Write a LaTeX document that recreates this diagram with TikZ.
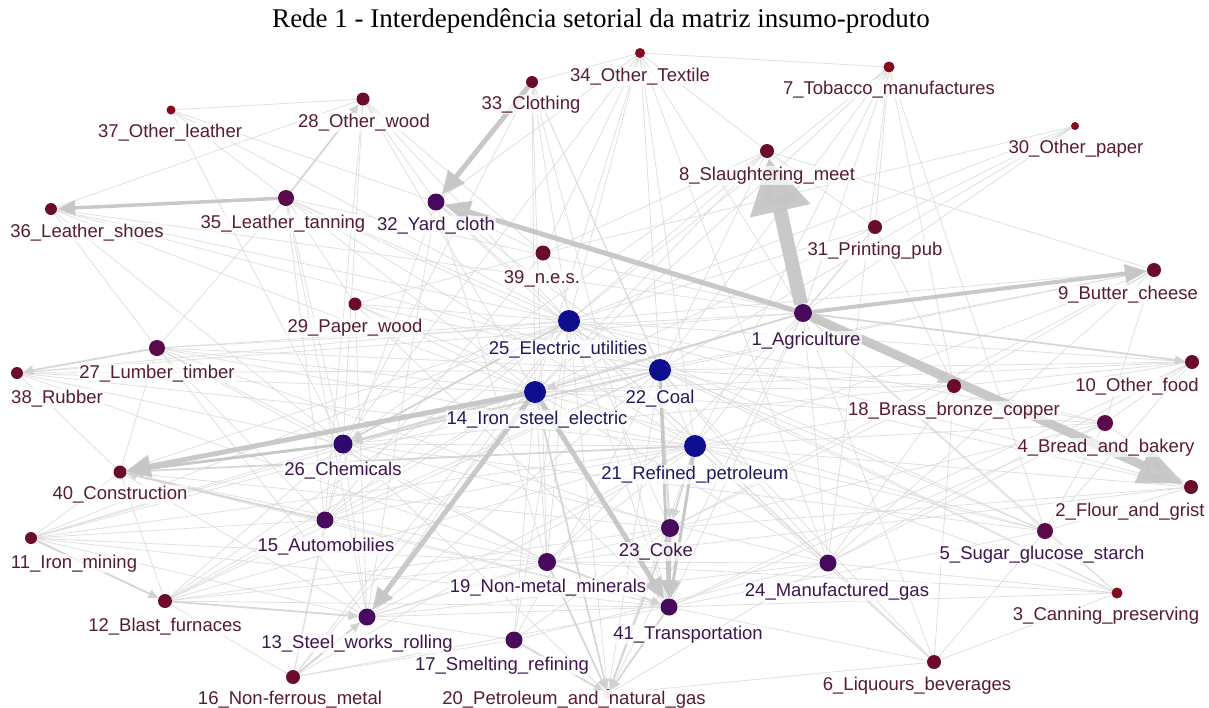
\documentclass[tikz,border=0pt]{standalone}
\usepackage{fontspec}
\setmainfont{Liberation Sans}
\newfontfamily\titlefont{Liberation Serif}
\usetikzlibrary{arrows.meta}
\pgfdeclarelayer{edges}
\pgfsetlayers{edges,main}

% node fill colours, from low to high centrality
\definecolor{cR}{RGB}{132,10,30}
\definecolor{cA}{RGB}{108,12,44}
\definecolor{cB}{RGB}{90,10,72}
\definecolor{cC}{RGB}{72,10,92}
\definecolor{cD}{RGB}{46,10,112}
\definecolor{cE}{RGB}{14,14,142}
% label text colours
\definecolor{tA}{RGB}{88,28,48}
\definecolor{tC}{RGB}{62,22,78}
\definecolor{tE}{RGB}{28,28,92}
\definecolor{edgelight}{RGB}{218,218,218}
\definecolor{edgemid}{RGB}{208,208,208}
\definecolor{edgeheavy}{RGB}{198,198,198}

\begin{document}
\begin{tikzpicture}[x=1pt,y=-1pt,
  dot/.style={circle,inner sep=0pt,minimum size=#1},
  lab/.style={anchor=base,font=\fontsize{18.5}{20}\selectfont,inner sep=1pt,
    fill=white,fill opacity=0.7,text opacity=1},
  e/.style={draw=edgelight,line width=0.8pt,opacity=0.85},
  em/.style={draw=edgemid,line width=1.8pt,opacity=0.85},
  heavy/.style={draw=edgeheavy,fill=edgeheavy,opacity=0.95}]
\useasboundingbox (0,0) rectangle (1209,707);

\node[font=\titlefont\fontsize{27}{30}\selectfont,anchor=base] (title) at (601,27)
  {Rede 1 - Interdependência setorial da matriz insumo-produto};

% sector nodes
\node[dot=18pt,fill=cC] (n1) at (803,313) {};
\node[dot=14pt,fill=cA] (n2) at (1191,487) {};
\node[dot=11pt,fill=cR] (n3) at (1117,593) {};
\node[dot=16pt,fill=cB] (n4) at (1105,423) {};
\node[dot=16pt,fill=cB] (n5) at (1045,531) {};
\node[dot=14pt,fill=cA] (n6) at (934,662) {};
\node[dot=11pt,fill=cR] (n7) at (889,67) {};
\node[dot=14pt,fill=cA] (n8) at (767,151) {};
\node[dot=14pt,fill=cA] (n9) at (1154,270) {};
\node[dot=14pt,fill=cA] (n10) at (1192,362) {};
\node[dot=12pt,fill=cA] (n11) at (31,538) {};
\node[dot=14pt,fill=cA] (n12) at (165,601) {};
\node[dot=17pt,fill=cC] (n13) at (367,617) {};
\node[dot=22pt,fill=cE] (n14) at (535,392) {};
\node[dot=17pt,fill=cC] (n15) at (325,520) {};
\node[dot=14pt,fill=cA] (n16) at (293,677) {};
\node[dot=17pt,fill=cC] (n17) at (514,640) {};
\node[dot=14pt,fill=cA] (n18) at (954,386) {};
\node[dot=18pt,fill=cC] (n19) at (547,562) {};
\node[dot=10pt,fill=cA] (n20) at (608,694) {};
\node[dot=22pt,fill=cE] (n21) at (695,446) {};
\node[dot=22pt,fill=cE] (n22) at (660,370) {};
\node[dot=18pt,fill=cC] (n23) at (670,528) {};
\node[dot=17pt,fill=cC] (n24) at (828,563) {};
\node[dot=22pt,fill=cE] (n25) at (569,321) {};
\node[dot=19pt,fill=cD] (n26) at (343,444) {};
\node[dot=16pt,fill=cB] (n27) at (157,348) {};
\node[dot=13pt,fill=cA] (n28) at (363,99) {};
\node[dot=13pt,fill=cA] (n29) at (355,304) {};
\node[dot=8pt,fill=cR] (n30) at (1075,126) {};
\node[dot=14pt,fill=cA] (n31) at (875,227) {};
\node[dot=17pt,fill=cC] (n32) at (436,202) {};
\node[dot=12pt,fill=cA] (n33) at (532,82) {};
\node[dot=10pt,fill=cR] (n34) at (640,53) {};
\node[dot=16pt,fill=cB] (n35) at (286,198) {};
\node[dot=12pt,fill=cA] (n36) at (51,209) {};
\node[dot=9pt,fill=cR] (n37) at (171,110) {};
\node[dot=12pt,fill=cA] (n38) at (17,373) {};
\node[dot=15pt,fill=cA] (n39) at (543,253) {};
\node[dot=13pt,fill=cA] (n40) at (120,472) {};
\node[dot=17pt,fill=cC] (n41) at (669,607) {};

% input-output links
\begin{pgfonlayer}{edges}
\foreach \a/\b in {25/36,25/37,25/28,25/33,25/34,25/7,25/8,25/31,25/30,25/9,25/10,25/4,
  25/2,25/5,25/3,25/6,25/24,25/41,25/20,25/17,25/13,25/16,25/12,25/11,25/40,25/38,25/27,
  25/35,25/32,25/29,25/26,25/15,25/19,
  14/36,14/27,14/38,14/35,14/28,14/33,14/34,14/7,14/8,14/31,14/9,14/10,14/18,14/4,14/5,
  14/24,14/17,14/16,14/12,14/11,14/15,14/19,
  22/27,22/35,22/36,22/32,22/33,22/34,22/7,22/8,22/30,22/9,22/10,22/18,22/2,22/5,22/3,
  22/6,22/24,22/20,22/17,22/13,22/15,22/12,22/11,22/38,
  21/38,21/27,21/35,21/29,21/32,21/33,21/34,21/7,21/31,21/9,21/10,21/4,21/2,21/5,21/3,
  21/6,21/24,21/20,21/19,21/13,21/12,21/11,21/26,21/15,21/16,
  26/36,26/37,26/28,26/33,26/34,26/8,26/18,26/5,26/24,26/19,26/20,26/13,26/16,26/12,
  26/11,26/38,26/35,
  1/34,1/7,1/31,1/30,1/5,1/3,1/6,1/24,1/20,1/41,1/19,1/26,1/27,1/38,1/36,1/35,
  41/6,41/5,41/3,41/4,41/10,41/12,41/11,41/40,41/15,41/13,41/16,
  23/2,23/4,23/18,23/9,23/12,23/40,23/27,23/13,23/17,
  19/40,19/11,19/12,19/27,19/38,19/32,19/33,19/2,19/3,19/24,
  13/11,13/40,13/27,13/32,13/29,13/35,13/19,13/24,13/17,
  24/18,24/4,24/10,24/9,24/7,24/6,24/3,24/17,24/20,
  15/27,15/35,15/28,15/32,15/39,15/11,15/12,15/16,
  35/37,35/27,35/29,36/27,37/28,32/28,32/34,32/37,33/34,8/31,8/34,7/31,7/18,7/5,
  30/31,31/18,9/18,9/4,10/4,10/18,10/5,4/2,4/5,4/18,2/5,5/3,5/6,3/6,18/6,6/20,16/12,
  16/13,16/17,12/11,12/40,11/40,40/27,38/40,29/39,39/32,39/8,39/34,39/23,
  34/7,34/24,33/41,28/39,29/14,29/22,29/41,28/36,27/26,8/9,39/30}
  \draw[e] (n\a) -- (n\b);

% medium links with arrow heads
\foreach \a/\b in {27/38,12/13,15/40,21/40,22/26,25/26,1/10,1/18,22/23,21/23,
  19/41,17/20,41/20,23/20,19/20,14/20,35/28,11/12,16/13,1/14,14/26}
  \draw[em,-{Triangle[length=10pt,width=9pt]}] (n\a) -- (n\b);

% strongest links
\draw[heavy,line width=14pt,-{Triangle[length=54pt,width=58pt]}] (n1) -- (n8);
\draw[heavy,line width=9pt,-{Triangle[length=46pt,width=36pt]}] (n1) -- (n2);
\draw[heavy,line width=5pt,-{Triangle[length=26pt,width=22pt]}] (n1) -- (n32);
\draw[heavy,line width=5pt,-{Triangle[length=24pt,width=20pt]}] (n33) -- (n32);
\draw[heavy,line width=4pt,-{Triangle[length=22pt,width=18pt]}] (n1) -- (n9);
\draw[heavy,line width=5pt,-{Triangle[length=24pt,width=22pt]}] (n14) -- (n40);
\draw[heavy,line width=5pt,-{Triangle[length=22pt,width=18pt]}] (n14) -- (n13);
\draw[heavy,line width=5pt,-{Triangle[length=22pt,width=18pt]}] (n14) -- (n41);
\draw[heavy,line width=3.5pt,-{Triangle[length=18pt,width=14pt]}] (n35) -- (n36);
\draw[heavy,line width=3pt,-{Triangle[length=18pt,width=14pt]}] (n22) -- (n41);
\draw[heavy,line width=3pt,-{Triangle[length=18pt,width=14pt]}] (n21) -- (n41);
\draw[heavy,line width=3pt,-{Triangle[length=18pt,width=14pt]}] (n23) -- (n41);
\draw[heavy,line width=3pt,-{Triangle[length=16pt,width=14pt]}] (n26) -- (n40);
\end{pgfonlayer}

% sector labels
\node[lab,text=tC] (l1) at (806,345) {1\_Agriculture};
\node[lab,text=tA] (l2) at (1130,516) {2\_Flour\_and\_grist};
\node[lab,text=tA] (l3) at (1106,620) {3\_Canning\_preserving};
\node[lab,text=tA] (l4) at (1106,452) {4\_Bread\_and\_bakery};
\node[lab,text=tC] (l5) at (1042,559) {5\_Sugar\_glucose\_starch};
\node[lab,text=tA] (l6) at (917,690) {6\_Liquours\_beverages};
\node[lab,text=tA] (l7) at (889,94) {7\_Tobacco\_manufactures};
\node[lab,text=tA] (l8) at (767,180) {8\_Slaughtering\_meet};
\node[lab,text=tA] (l9) at (1128,299) {9\_Butter\_cheese};
\node[lab,text=tA] (l10) at (1137,391) {10\_Other\_food};
\node[lab,text=tA] (l11) at (74,568) {11\_Iron\_mining};
\node[lab,text=tA] (l12) at (165,631) {12\_Blast\_furnaces};
\node[lab,text=tC] (l13) at (357,648) {13\_Steel\_works\_rolling};
\node[lab,text=tE] (l14) at (537,424) {14\_Iron\_steel\_electric};
\node[lab,text=tC] (l15) at (326,551) {15\_Automobilies};
\node[lab,text=tA] (l16) at (290,704) {16\_Non-ferrous\_metal};
\node[lab,text=tC] (l17) at (502,670) {17\_Smelting\_refining};
\node[lab,text=tA] (l18) at (954,415) {18\_Brass\_bronze\_copper};
\node[lab,text=tC] (l19) at (548,592) {19\_Non-metal\_minerals};
\node[lab,text=tA,fill opacity=0.92] (l20) at (574,704) {20\_Petroleum\_and\_natural\_gas};
\node[lab,text=tE] (l21) at (695,479) {21\_Refined\_petroleum};
\node[lab,text=tE] (l22) at (660,403) {22\_Coal};
\node[lab,text=tC] (l23) at (656,556) {23\_Coke};
\node[lab,text=tC] (l24) at (837,596) {24\_Manufactured\_gas};
\node[lab,text=tE] (l25) at (568,354) {25\_Electric\_utilities};
\node[lab,text=tC] (l26) at (343,475) {26\_Chemicals};
\node[lab,text=tA] (l27) at (157,378) {27\_Lumber\_timber};
\node[lab,text=tA] (l28) at (364,127) {28\_Other\_wood};
\node[lab,text=tA] (l29) at (355,332) {29\_Paper\_wood};
\node[lab,text=tA] (l30) at (1076,153) {30\_Other\_paper};
\node[lab,text=tA] (l31) at (875,255) {31\_Printing\_pub};
\node[lab,text=tC] (l32) at (436,230) {32\_Yard\_cloth};
\node[lab,text=tA] (l33) at (531,109) {33\_Clothing};
\node[lab,text=tA] (l34) at (640,81) {34\_Other\_Textile};
\node[lab,text=tA] (l35) at (283,228) {35\_Leather\_tanning};
\node[lab,text=tA] (l36) at (87,237) {36\_Leather\_shoes};
\node[lab,text=tA] (l37) at (170,137) {37\_Other\_leather};
\node[lab,text=tA] (l38) at (57,403) {38\_Rubber};
\node[lab,text=tA] (l39) at (542,283) {39\_n.e.s.};
\node[lab,text=tA] (l40) at (120,499) {40\_Construction};
\node[lab,text=tC] (l41) at (688,639) {41\_Transportation};
\end{tikzpicture}
\end{document}
